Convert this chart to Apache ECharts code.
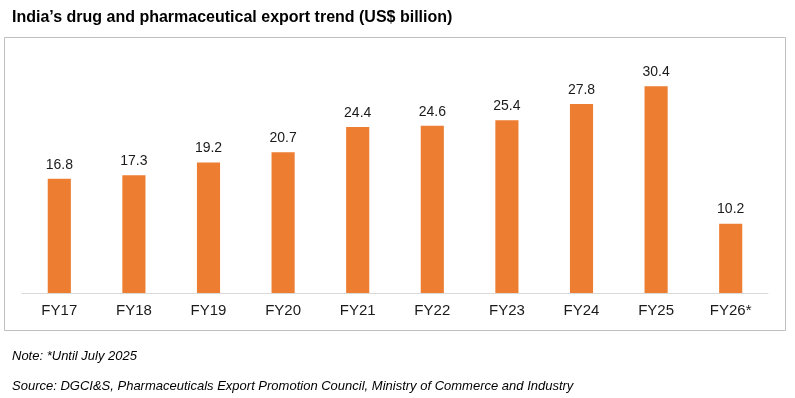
<!DOCTYPE html>
<html><head><meta charset="utf-8">
<script src="https://cdn.jsdelivr.net/npm/echarts@6/dist/echarts.min.js"></script>
<style>html,body{margin:0;padding:0;background:#fff}#c{width:795px;height:398px}</style>
</head><body><div id="c"></div>
<script>
const categories = ['FY17','FY18','FY19','FY20','FY21','FY22','FY23','FY24','FY25','FY26*'];
const exportsBn = [16.8, 17.3, 19.2, 20.7, 24.4, 24.6, 25.4, 27.8, 30.4, 10.2];
const titleText = 'India\u2019s drug and pharmaceutical export trend (US$ billion)';
const noteText = 'Note: *Until July 2025';
const sourceText = 'Source: DGCI&S, Pharmaceuticals Export Promotion Council, Ministry of Commerce and Industry';

const chart = echarts.init(document.getElementById('c'), null, {renderer:'canvas'});
chart.setOption({
  animation:false,
  backgroundColor:'#fff',
  title:[
    {text:titleText, left:7, top:5, textStyle:{fontFamily:'Liberation Sans, Arial', fontWeight:'bold', fontSize:16, color:'#000'}},
    {text:noteText, left:7, top:345, textStyle:{fontFamily:'Liberation Sans, Arial', fontStyle:'italic', fontWeight:'normal', fontSize:13, color:'#000'}},
    {text:sourceText, left:7, top:375, textStyle:{fontFamily:'Liberation Sans, Arial', fontStyle:'italic', fontWeight:'normal', fontSize:13, color:'#000'}}
  ],
  graphic:[{type:'rect', shape:{x:4.5,y:37.5,width:781,height:293}, style:{fill:'none', stroke:'#BFBFBF', lineWidth:1}, z:-1}],
  grid:{left:22, right:27, top:55, bottom:105},
  xAxis:{type:'category', data:categories,
    axisLine:{lineStyle:{color:'#D9D9D9', width:1}}, axisTick:{show:false},
    axisLabel:{fontFamily:'Liberation Sans, Arial', fontSize:15, color:'#1a1a1a', margin:10}},
  yAxis:{type:'value', min:0, max:35, show:false, splitLine:{show:false}},
  series:[{type:'bar', data:exportsBn, barWidth:'31%',
    itemStyle:{color:'#ED7D31'},
    label:{show:true, position:'top', distance:7, fontFamily:'Liberation Sans, Arial', fontSize:14, color:'#1a1a1a', formatter:p=>p.value.toFixed(1)}}]
});
</script></body></html>
